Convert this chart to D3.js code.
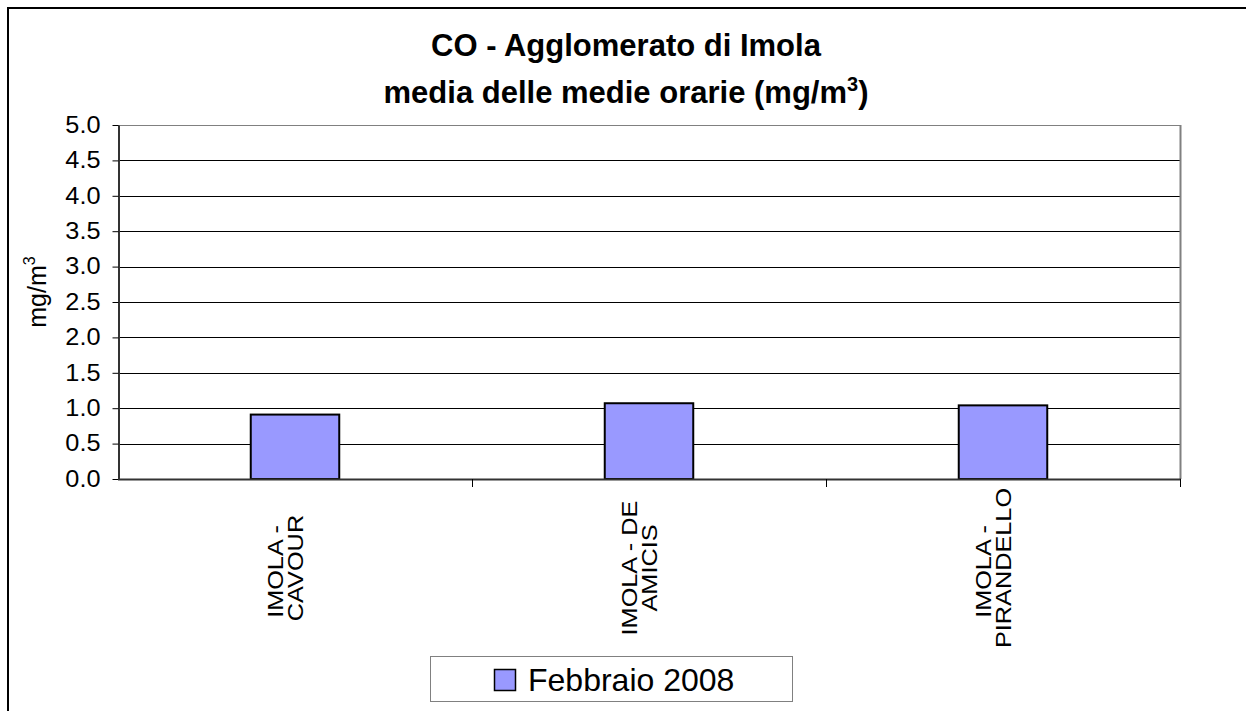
<!DOCTYPE html>
<html>
<head>
<meta charset="utf-8">
<script src="https://cdn.jsdelivr.net/npm/d3@7/dist/d3.min.js"></script>
<style>
  body { margin: 0; background: #fff; }
  svg { display: block; font-family: "Liberation Sans", Arial, sans-serif; }
</style>
</head>
<body>
<div id="holder"></div>
<script>
// data
var stations = ["IMOLA - CAVOUR", "IMOLA - DE AMICIS", "IMOLA - PIRANDELLO"];
var stationLines = [["IMOLA - ", "CAVOUR"], ["IMOLA - DE", "AMICIS"], ["IMOLA - ", "PIRANDELLO"]];
var values = [0.91, 1.07, 1.04];
var yTicks = [0, 0.5, 1, 1.5, 2, 2.5, 3, 3.5, 4, 4.5, 5];
var seriesName = "Febbraio 2008";
var titleLine1 = "CO - Agglomerato di Imola";
var titleLine2 = "media delle medie orarie (mg/m";

var W = 1246, H = 711;
var plot = {left: 118, right: 1180, top: 125, bottom: 479};

var svg = d3.select('#holder').append('svg').attr('width', W).attr('height', H);

// chart area border (runs off the right and bottom of the picture)
svg.append('rect')
  .attr('x', 8).attr('y', 8)
  .attr('width', 1400).attr('height', 900)
  .style('fill', 'white')
  .style('stroke', 'black')
  .style('stroke-width', 2);

var x = d3.scaleBand().domain(stations).range([plot.left, plot.right]).paddingInner(0).paddingOuter(0);
var y = d3.scaleLinear().domain([0, 5]).range([plot.bottom, plot.top]);

// gridlines
svg.append('g').selectAll('line')
  .data(yTicks.slice(1))
  .enter().append('line')
  .attr('x1', plot.left).attr('x2', plot.right)
  .attr('y1', function(d) { return Math.round(y(d)) + 0.5; })
  .attr('y2', function(d) { return Math.round(y(d)) + 0.5; })
  .style('stroke', function(d) { return d === 5 ? '#808080' : '#000'; })
  .style('stroke-width', 1);

// right border of plot area
svg.append('line')
  .attr('x1', plot.right + 0.5).attr('x2', plot.right + 0.5)
  .attr('y1', plot.top).attr('y2', plot.bottom)
  .style('stroke', '#808080').style('stroke-width', 2);

// bars
var barW = x.bandwidth() * 0.25;
svg.append('g').selectAll('rect')
  .data(values)
  .enter().append('rect')
  .attr('x', function(d, i) { return x(stations[i]) + (x.bandwidth() - barW) / 2; })
  .attr('y', function(d) { return y(d); })
  .attr('width', barW)
  .attr('height', function(d) { return plot.bottom - y(d); })
  .style('fill', '#9999FF')
  .style('stroke', 'black')
  .style('stroke-width', 2);

// y axis (labels are drawn a bit wide, as in the original)
var yAxis = svg.append('g')
  .attr('transform', 'translate(' + (plot.left + 0.5) + ',0)')
  .call(d3.axisLeft(y).tickValues(yTicks).tickFormat(d3.format('.1f')).tickSizeInner(6).tickSizeOuter(0).tickPadding(12));
yAxis.select('.domain').style('stroke', '#333').style('stroke-width', 2);
yAxis.selectAll('.tick line').style('stroke', '#000');
yAxis.selectAll('.tick text')
  .attr('x', 0)
  .attr('transform', 'translate(-18,0) scale(1.1,1)')
  .style('font-size', '23px')
  .style('font-family', '"Liberation Sans", Arial, sans-serif')
  .style('fill', '#000');

// x axis: ticks at category boundaries
var xAxisG = svg.append('g');
xAxisG.append('line')
  .attr('x1', plot.left).attr('x2', plot.right + 1)
  .attr('y1', plot.bottom + 0.5).attr('y2', plot.bottom + 0.5)
  .style('stroke', '#333').style('stroke-width', 2);
xAxisG.selectAll('line.tk')
  .data(stations)
  .enter().append('line')
  .attr('class', 'tk')
  .attr('x1', function(d) { return Math.round(x(d) + x.bandwidth()) + 0.5; })
  .attr('x2', function(d) { return Math.round(x(d) + x.bandwidth()) + 0.5; })
  .attr('y1', plot.bottom).attr('y2', plot.bottom + 8)
  .style('stroke', '#000');

// rotated two-line category labels, each line centred on a common middle
var labelMid = 568;
xAxisG.selectAll('text.lbl')
  .data(stations)
  .enter().append('text')
  .attr('class', 'lbl')
  .attr('transform', function(d) { return 'translate(' + (x(d) + x.bandwidth() / 2) + ',' + labelMid + ') rotate(-90) scale(1.15,1)'; })
  .style('font-size', '22px')
  .style('text-anchor', 'middle')
  .style('fill', '#000')
  .each(function(d, i) {
    var t = d3.select(this);
    stationLines[i].forEach(function(line, j) {
      t.append('tspan')
        .attr('x', 0)
        .attr('y', j === 0 ? -12.5 : 8)
        .style('white-space', 'pre')
        .text(line);
    });
  });

// y axis title
var yTitle = svg.append('text')
  .attr('transform', 'translate(46,' + 292 + ') rotate(-90)')
  .style('text-anchor', 'middle')
  .style('font-size', '25px')
  .style('fill', '#000');
yTitle.append('tspan').text('mg/m');
yTitle.append('tspan').attr('dy', -11).style('font-size', '16px').text('3');

// chart title
svg.append('text')
  .attr('x', 626).attr('y', 56)
  .style('text-anchor', 'middle')
  .style('font-size', '31px')
  .style('font-weight', 'bold')
  .style('fill', '#000')
  .text(titleLine1);
var t2 = svg.append('text')
  .attr('x', 626).attr('y', 103)
  .style('text-anchor', 'middle')
  .style('font-size', '31px')
  .style('font-weight', 'bold')
  .style('fill', '#000');
t2.append('tspan').text(titleLine2);
t2.append('tspan').attr('dy', -12).style('font-size', '20px').text('3');
t2.append('tspan').attr('dy', 12).text(')');

// legend
var legend = svg.append('g');
legend.append('rect')
  .attr('x', 430.5).attr('y', 656.5)
  .attr('width', 362).attr('height', 45)
  .style('fill', 'white')
  .style('stroke', '#808080')
  .style('stroke-width', 1);
legend.append('rect')
  .attr('x', 494.5).attr('y', 669.5)
  .attr('width', 21).attr('height', 21)
  .style('fill', '#9999FF')
  .style('stroke', 'black')
  .style('stroke-width', 1.5);
legend.append('text')
  .attr('x', 528).attr('y', 691)
  .style('font-size', '32px')
  .style('fill', '#000')
  .text(seriesName);
</script>
</body>
</html>
